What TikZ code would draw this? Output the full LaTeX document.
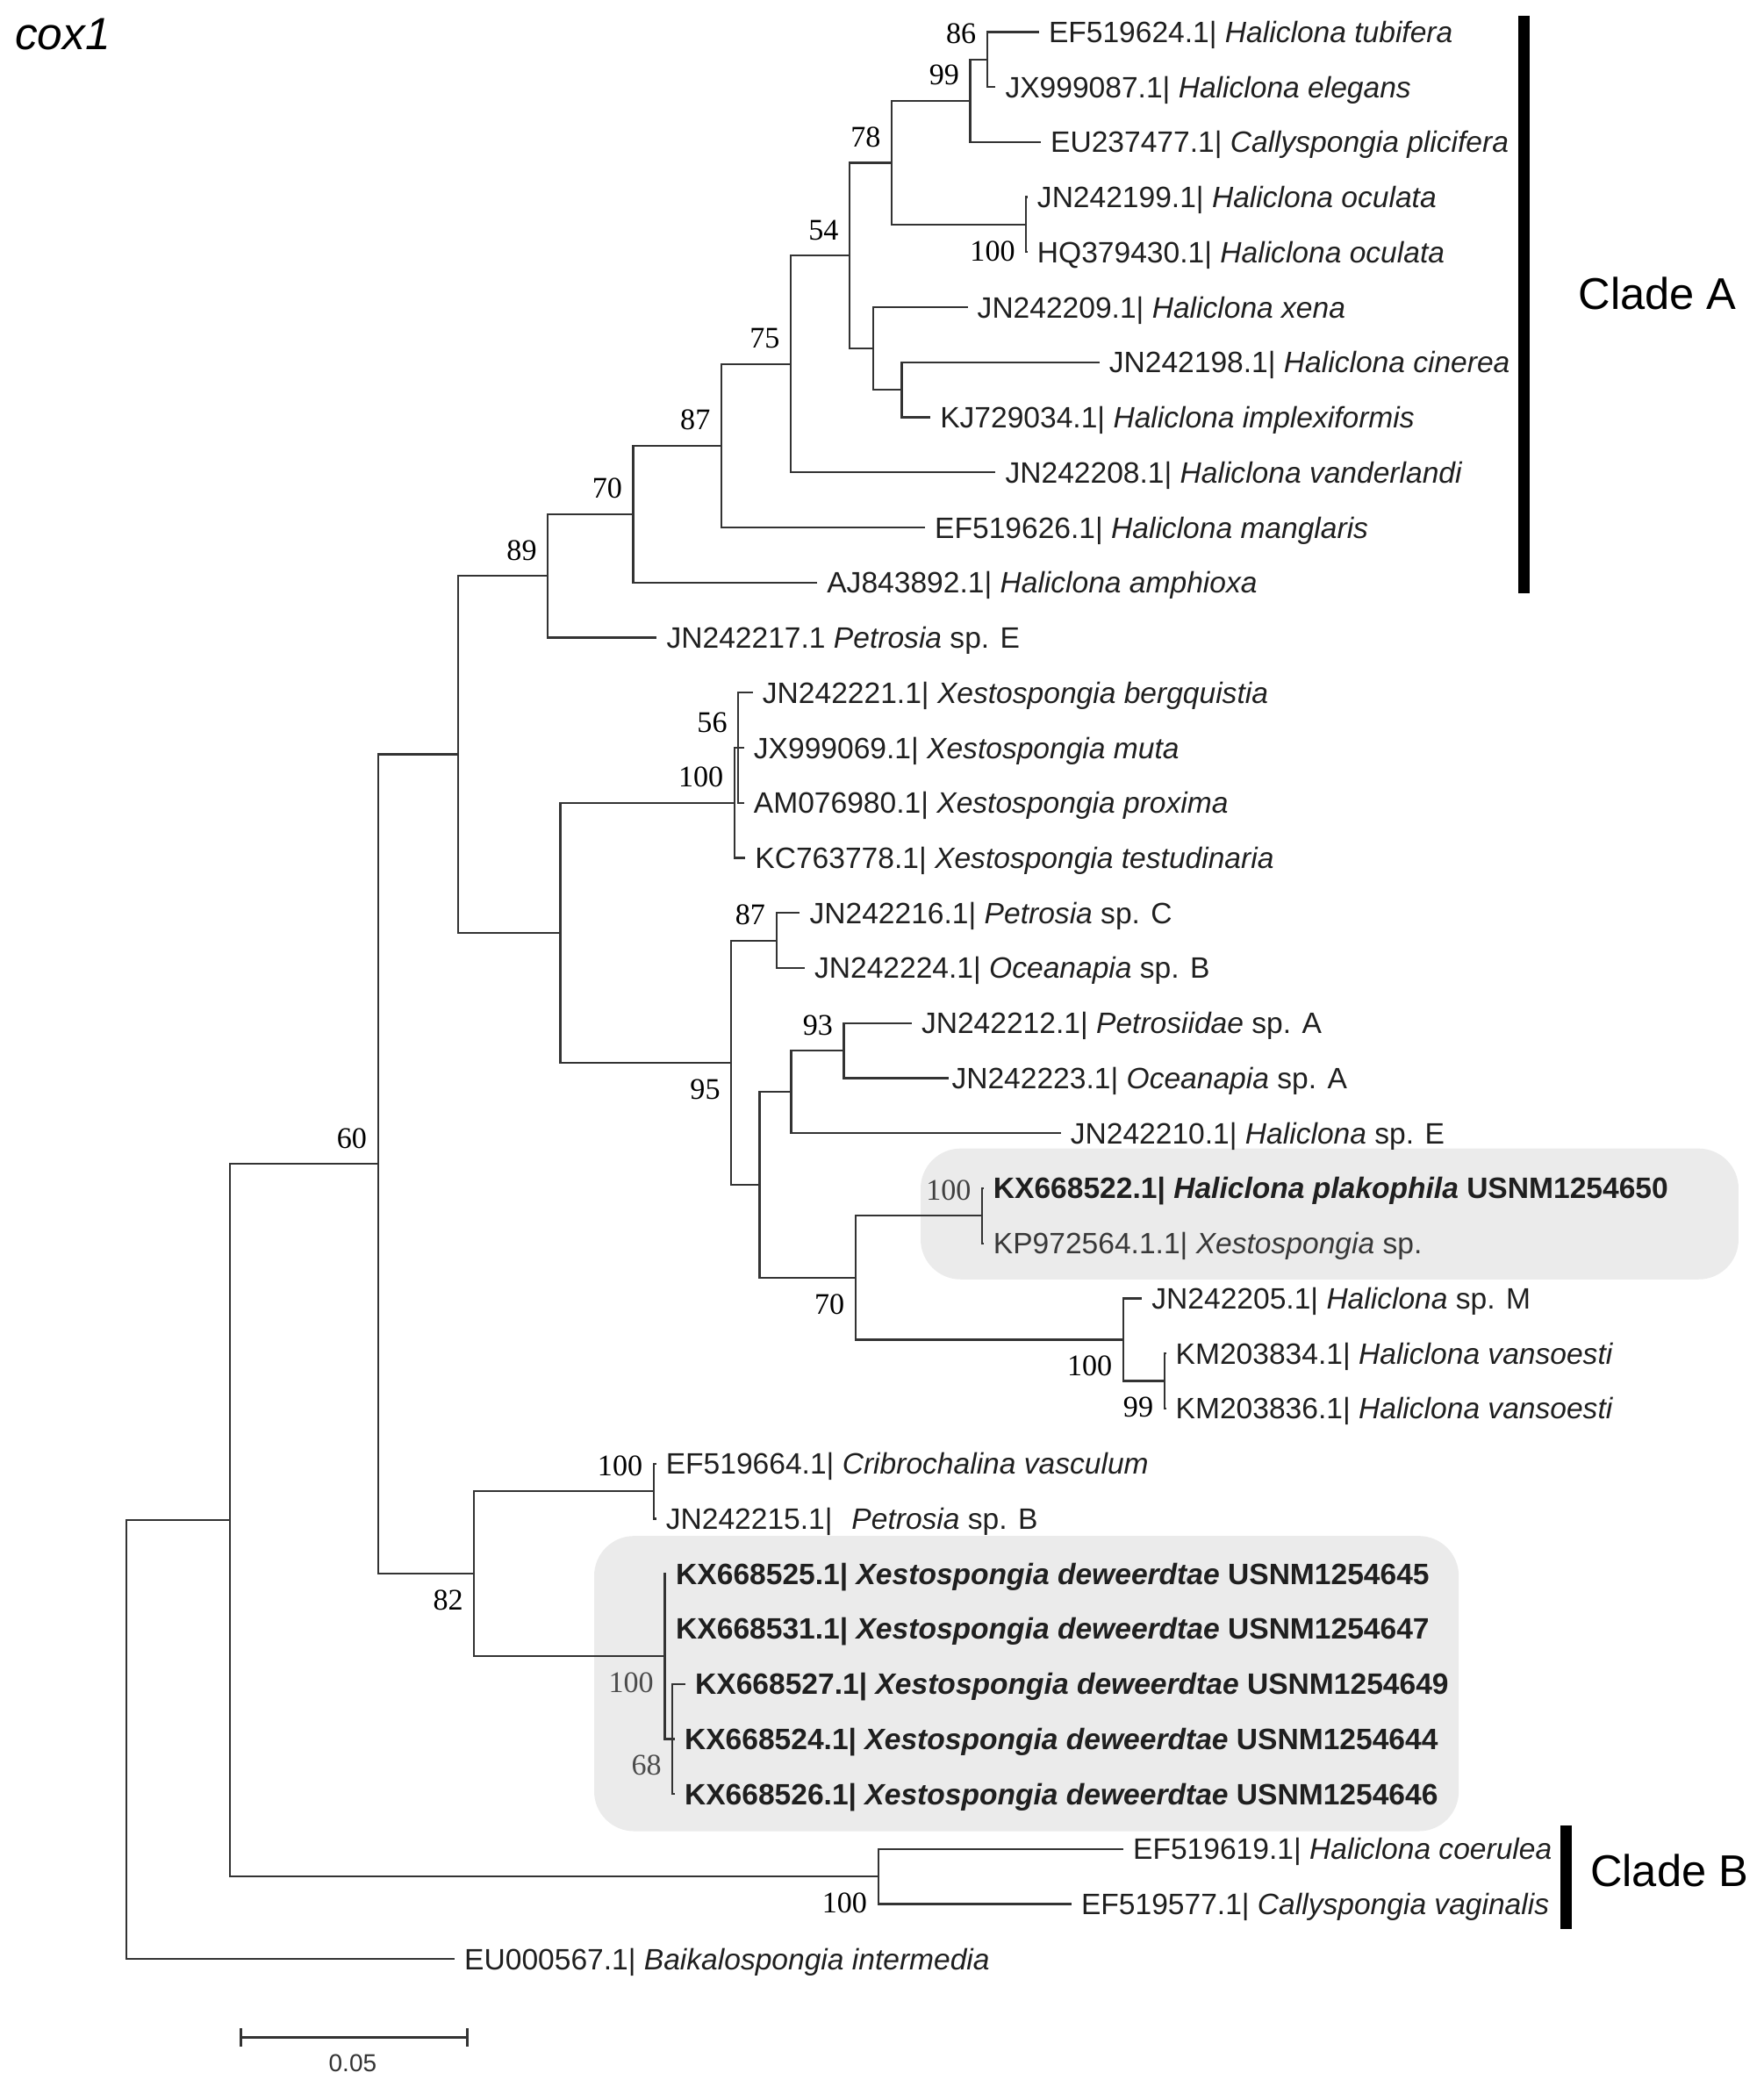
\documentclass[tikz,border=0pt]{standalone}
\usepackage{fontspec}
\setmainfont{Liberation Sans}
\newfontfamily\bootfont{Liberation Serif}
\usepackage{tikz}
\usetikzlibrary{arrows.meta, calc}

\begin{document}
\begin{tikzpicture}[
    x=0.02cm, y=-0.02cm,
    every node/.style={inner sep=0pt},
    branch/.style={draw=black!80, line width=0.85pt},
    leaf/.style={anchor=west, inner xsep=0.14cm, text height=9pt, text depth=0pt,
                 font=\fontsize{12.6}{14}\selectfont, text=black!88},
    newsp/.style={leaf, font=\fontsize{12.6}{14}\selectfont\bfseries},
    boot/.style={anchor=east, xshift=-0.16cm, text height=8.7pt, text depth=0pt,
                 font=\bootfont\fontsize{12.8}{14}\selectfont},
    bsup/.style={boot, yshift=0.39cm},
    bsdn/.style={boot, yshift=-0.39cm},
    hilite/.style={fill=black!8, rounded corners=0.6cm},
    cladebar/.style={line width=5pt},
    cladetxt/.style={anchor=west, font=\fontsize{19}{22}\selectfont}
]
    \useasboundingbox (0,0) rectangle (1325,1568);

    \path[hilite] (691.7,862.9) rectangle (1306.2,961.2);
    \path[hilite] (446.4,1154) rectangle (1096,1375.8);

    \node[anchor=west, font=\itshape\fontsize{19.3}{22}\selectfont] (title) at (11,26) {cox1};

    \node[leaf] (l1) at (780.6,24) {EF519624.1| \textit{Haliclona tubifera}};
    \node[leaf] (l2) at (748,65.37) {JX999087.1| \textit{Haliclona elegans}};
    \node[leaf] (l3) at (782,106.74) {EU237477.1| \textit{Callyspongia plicifera}};
    \node[leaf] (l4) at (772,148.11) {JN242199.1| \textit{Haliclona oculata}};
    \node[leaf] (l5) at (772,189.48) {HQ379430.1| \textit{Haliclona oculata}};
    \node[leaf] (l6) at (727,230.85) {JN242209.1| \textit{Haliclona xena}};
    \node[leaf] (l7) at (826,272.22) {JN242198.1| \textit{Haliclona cinerea}};
    \node[leaf] (l8) at (699,313.59) {KJ729034.1| \textit{Haliclona implexiformis}};
    \node[leaf] (l9) at (748,354.96) {JN242208.1| \textit{Haliclona vanderlandi}};
    \node[leaf] (l10) at (695,396.33) {EF519626.1| \textit{Haliclona manglaris}};
    \node[leaf] (l11) at (614,437.70) {AJ843892.1| \textit{Haliclona amphioxa}};
    \node[leaf] (l12) at (493.5,479.07) {JN242217.1 \textit{Petrosia} sp. E};
    \node[leaf] (l13) at (565.6,520.44) {JN242221.1| \textit{Xestospongia bergquistia}};
    \node[leaf] (l14) at (559,561.81) {JX999069.1| \textit{Xestospongia muta}};
    \node[leaf] (l15) at (559,603.18) {AM076980.1| \textit{Xestospongia proxima}};
    \node[leaf] (l16) at (560,644.55) {KC763778.1| \textit{Xestospongia testudinaria}};
    \node[leaf] (l17) at (601,685.92) {JN242216.1| \textit{Petrosia} sp. C};
    \node[leaf] (l18) at (604.6,727.29) {JN242224.1| \textit{Oceanapia} sp. B};
    \node[leaf] (l19) at (685,768.66) {JN242212.1| \textit{Petrosiidae} sp. A};
    \node[leaf, inner xsep=1pt] (l20) at (713,810.03) {JN242223.1| \textit{Oceanapia} sp. A};
    \node[leaf] (l21) at (797,851.40) {JN242210.1| \textit{Haliclona} sp. E};
    \node[newsp] (l22) at (739,892.77) {KX668522.1| \textit{Haliclona plakophila} USNM1254650};
    \node[leaf, text=black!78] (l23) at (739,934.14) {KP972564.1.1| \textit{Xestospongia} sp.};
    \node[leaf] (l24) at (858,975.51) {JN242205.1| \textit{Haliclona} sp. M};
    \node[leaf] (l25) at (876,1016.88) {KM203834.1| \textit{Haliclona vansoesti}};
    \node[leaf] (l26) at (876,1058.25) {KM203836.1| \textit{Haliclona vansoesti}};
    \node[leaf] (l27) at (493,1099.62) {EF519664.1| \textit{Cribrochalina vasculum}};
    \node[leaf] (l28) at (493,1140.99) {JN242215.1|\hspace{0.65em}\textit{Petrosia} sp. B};
    \node[newsp] (l29) at (500.5,1182.36) {KX668525.1| \textit{Xestospongia deweerdtae} USNM1254645};
    \node[newsp] (l30) at (500.5,1223.73) {KX668531.1| \textit{Xestospongia deweerdtae} USNM1254647};
    \node[newsp] (l31) at (515,1265.10) {KX668527.1| \textit{Xestospongia deweerdtae} USNM1254649};
    \node[newsp] (l32) at (507,1306.47) {KX668524.1| \textit{Xestospongia deweerdtae} USNM1254644};
    \node[newsp] (l33) at (507,1347.84) {KX668526.1| \textit{Xestospongia deweerdtae} USNM1254646};
    \node[leaf] (l34) at (844,1389.21) {EF519619.1| \textit{Haliclona coerulea}};
    \node[leaf] (l35) at (805,1430.58) {EF519577.1| \textit{Callyspongia vaginalis}};
    \node[leaf] (l36) at (341.6,1471.95) {EU000567.1| \textit{Baikalospongia intermedia}};

    \coordinate (n86) at (741.7,44.69);
    \coordinate (n99) at (729,75.72);
    \coordinate (noc) at (771,168.80);
    \coordinate (n78) at (670,122.26);
    \coordinate (ncin) at (677.5,292.91);
    \coordinate (nxen) at (656,261.88);
    \coordinate (n54) at (638.4,192.07);
    \coordinate (n75) at (594.2,273.52);
    \coordinate (n87) at (542,334.93);
    \coordinate (n70) at (475.8,386.31);
    \coordinate (n89) at (411.6,432.69);
    \coordinate (nx56) at (554.7,561.81);
    \coordinate (nx100) at (551.8,603.18);
    \coordinate (np87) at (583.3,706.61);
    \coordinate (n93) at (634,789.35);
    \coordinate (nq) at (594.5,820.37);
    \coordinate (npl) at (737.9,913.46);
    \coordinate (nv99) at (874.8,1037.57);
    \coordinate (nv100) at (843.9,1006.54);
    \coordinate (nb70) at (642.8,960.00);
    \coordinate (nr) at (570.6,890.19);
    \coordinate (n95) at (549.4,798.40);
    \coordinate (nx) at (421,700.79);
    \coordinate (ny) at (344,566.74);
    \coordinate (ncr) at (491.1,1120.31);
    \coordinate (nd68) at (505.3,1306.47);
    \coordinate (nd100) at (499.4,1244.42);
    \coordinate (n82) at (356.3,1182.37);
    \coordinate (n60) at (284,874.56);
    \coordinate (ncb) at (659.8,1409.90);
    \coordinate (nz) at (172.9,1142.23);
    \coordinate (nroot) at (94.8,1307.09);

    \draw[branch] (n86) |- (l1.west);
    \draw[branch] (n86) |- (l2.west);
    \draw[branch] (n99) |- (n86);
    \draw[branch] (n99) |- (l3.west);
    \draw[branch] (noc) |- (l4.west);
    \draw[branch] (noc) |- (l5.west);
    \draw[branch] (n78) |- (n99);
    \draw[branch] (n78) |- (noc);
    \draw[branch] (ncin) |- (l7.west);
    \draw[branch] (ncin) |- (l8.west);
    \draw[branch] (nxen) |- (l6.west);
    \draw[branch] (nxen) |- (ncin);
    \draw[branch] (n54) |- (n78);
    \draw[branch] (n54) |- (nxen);
    \draw[branch] (n75) |- (n54);
    \draw[branch] (n75) |- (l9.west);
    \draw[branch] (n87) |- (n75);
    \draw[branch] (n87) |- (l10.west);
    \draw[branch] (n70) |- (n87);
    \draw[branch] (n70) |- (l11.west);
    \draw[branch] (n89) |- (n70);
    \draw[branch] (n89) |- (l12.west);
    \draw[branch] (nx56) |- (l13.west);
    \draw[branch] (nx56) |- (l14.west);
    \draw[branch] (nx56) |- (l15.west);
    \draw[branch] (nx100) |- (nx56);
    \draw[branch] (nx100) |- (l16.west);
    \draw[branch] (np87) |- (l17.west);
    \draw[branch] (np87) |- (l18.west);
    \draw[branch] (n93) |- (l19.west);
    \draw[branch] (n93) |- (l20.west);
    \draw[branch] (nq) |- (n93);
    \draw[branch] (nq) |- (l21.west);
    \draw[branch] (npl) |- (l22.west);
    \draw[branch] (npl) |- (l23.west);
    \draw[branch] (nv99) |- (l25.west);
    \draw[branch] (nv99) |- (l26.west);
    \draw[branch] (nv100) |- (l24.west);
    \draw[branch] (nv100) |- (nv99);
    \draw[branch] (nb70) |- (npl);
    \draw[branch] (nb70) |- (nv100);
    \draw[branch] (nr) |- (nq);
    \draw[branch] (nr) |- (nb70);
    \draw[branch] (n95) |- (np87);
    \draw[branch] (n95) |- (nr);
    \draw[branch] (nx) |- (nx100);
    \draw[branch] (nx) |- (n95);
    \draw[branch] (ny) |- (n89);
    \draw[branch] (ny) |- (nx);
    \draw[branch] (ncr) |- (l27.west);
    \draw[branch] (ncr) |- (l28.west);
    \draw[branch] (nd68) |- (l31.west);
    \draw[branch] (nd68) |- (l32.west);
    \draw[branch] (nd68) |- (l33.west);
    \draw[branch] (nd100) |- (l29.west);
    \draw[branch] (nd100) |- (l30.west);
    \draw[branch] (nd100) |- (nd68);
    \draw[branch] (n82) |- (ncr);
    \draw[branch] (n82) |- (nd100);
    \draw[branch] (n60) |- (ny);
    \draw[branch] (n60) |- (n82);
    \draw[branch] (ncb) |- (l34.west);
    \draw[branch] (ncb) |- (l35.west);
    \draw[branch] (nz) |- (n60);
    \draw[branch] (nz) |- (ncb);
    \draw[branch] (nroot) |- (nz);
    \draw[branch] (nroot) |- (l36.west);

    \node[bsup] (b86) at (n86) {86};
    \node[bsup] (b99) at (n99) {99};
    \node[bsup] (b78) at (n78) {78};
    \node[bsdn] (boc) at (noc) {100};
    \node[bsup] (b54) at (n54) {54};
    \node[bsup] (b75) at (n75) {75};
    \node[bsup] (b87) at (n87) {87};
    \node[bsup] (b70) at (n70) {70};
    \node[bsup] (b89) at (n89) {89};
    \node[bsup] (b60) at (n60) {60};
    \node[bsup] (bx56) at (nx56) {56};
    \node[bsup] (bx100) at (nx100) {100};
    \node[bsup] (bp87) at (np87) {87};
    \node[bsup] (b93) at (n93) {93};
    \node[bsdn] (b95) at (n95) {95};
    \node[bsup, text=black!75] (bpl) at (npl) {100};
    \node[bsdn] (bb70) at (nb70) {70};
    \node[bsdn] (bv100) at (nv100) {100};
    \node[bsdn] (bv99) at (nv99) {99};
    \node[bsup] (bcr) at (ncr) {100};
    \node[bsdn] (b82) at (n82) {82};
    \node[bsdn, text=black!70] (bd100) at (nd100) {100};
    \node[bsdn, text=black!70] (bd68) at (nd68) {68};
    \node[bsdn] (bcb) at (ncb) {100};

    \coordinate (cAtop) at (1145.2,11.8);
    \coordinate (cAbot) at (1145.2,445.9);
    \coordinate (cBtop) at (1176.5,1371.6);
    \coordinate (cBbot) at (1176.5,1449);
    \draw[cladebar] (cAtop) -- (cAbot);
    \draw[cladebar] (cBtop) -- (cBbot);
    \node[cladetxt] (cladeA) at (1185.5,220.4) {Clade A};
    \node[cladetxt] (cladeB) at (1194.5,1405.4) {Clade B};

    \coordinate (sb1) at (180.2,1530.8);
    \coordinate (sb2) at (351.9,1530.8);
    \draw[branch, {Bar[width=7.9pt]}-{Bar[width=7.9pt]}] (sb1) -- (sb2);
    \node[font=\fontsize{10.5}{12}\selectfont, text=black!80] (sblab) at (265,1550) {0.05};
\end{tikzpicture}
\end{document}
